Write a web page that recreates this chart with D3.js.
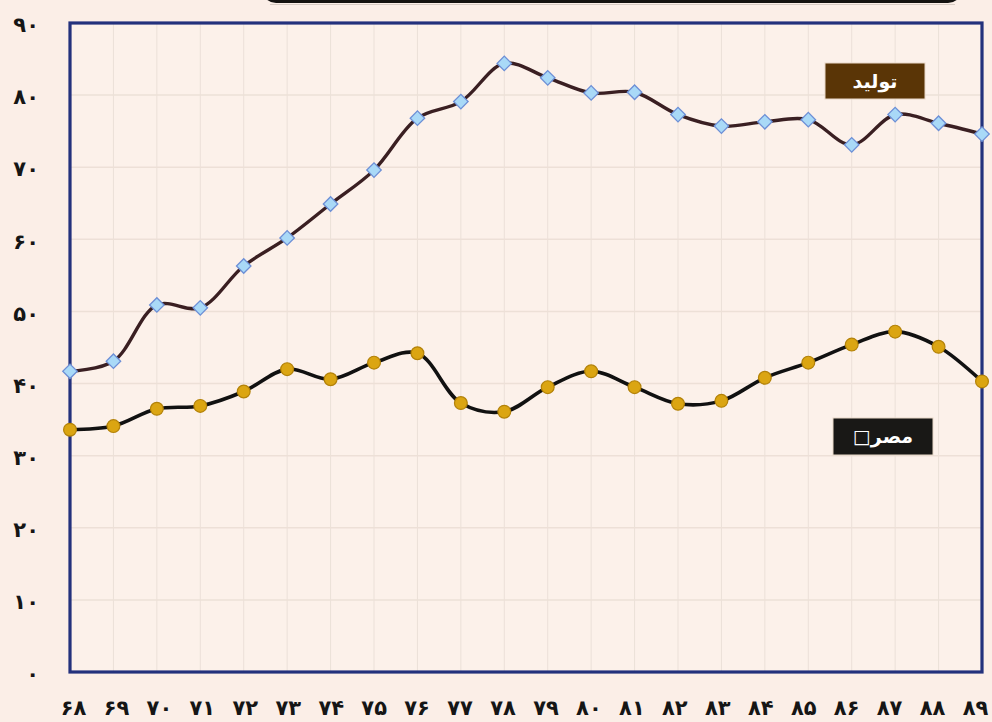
<!DOCTYPE html>
<html>
<head>
<meta charset="utf-8">
<script src="https://cdn.jsdelivr.net/npm/d3@7/dist/d3.min.js"></script>
<style>
  html, body { margin: 0; padding: 0; background: #fbeee7; }
  svg { display: block; }
</style>
</head>
<body>
<svg id="chart" width="992" height="722"></svg>
<script>
// ---- data ----
const years = ["۶۸","۶۹","۷۰","۷۱","۷۲","۷۳","۷۴","۷۵","۷۶","۷۷","۷۸","۷۹","۸۰","۸۱","۸۲","۸۳","۸۴","۸۵","۸۶","۸۷","۸۸","۸۹"];
const production = [41.7, 43.1, 50.9, 50.5, 56.3, 60.2, 64.9, 69.6, 76.8, 79.1, 84.4, 82.4, 80.3, 80.4, 77.3, 75.7, 76.3, 76.6, 73.1, 77.3, 76.1, 74.6];
const consumption = [33.6, 34.1, 36.5, 36.9, 38.9, 42.0, 40.6, 42.9, 44.2, 37.3, 36.1, 39.5, 41.7, 39.5, 37.2, 37.6, 40.8, 42.9, 45.4, 47.2, 45.1, 40.3];
const yTicks = [0, 10, 20, 30, 40, 50, 60, 70, 80, 90];
const yTickLabels = ["٠","۱۰","۲۰","۳۰","۴۰","۵۰","۶۰","۷۰","۸۰","۹۰"];
const legendProduction = "تولید";
const legendConsumption = "مصر□";

// ---- layout ----
const svg = d3.select("#chart");
const L = 70, R = 982, T = 23, B = 672;

const x = d3.scalePoint().domain(years).range([L, R]);
const xLab = d3.scalePoint().domain(years).range([73, 975]);
const y = d3.scaleLinear().domain([0, 90]).range([B, T]);

// background
svg.append("rect").attr("width", 992).attr("height", 722).attr("fill", "#fbeee7");

// top dark banner (cropped)
svg.append("rect").attr("x", 262).attr("y", -30).attr("width", 700).attr("height", 33)
  .attr("rx", 14).attr("fill", "#141210");
svg.append("line").attr("x1", 270).attr("x2", 955).attr("y1", 4.5).attr("y2", 4.5)
  .attr("stroke", "#d8ccc4").attr("stroke-width", 1);

// plot area
svg.append("rect").attr("x", L).attr("y", T).attr("width", R - L).attr("height", B - T)
  .attr("fill", "#fcf1ea");

// grid
const grid = svg.append("g");
grid.selectAll("line.v").data(years).join("line")
  .attr("x1", d => x(d)).attr("x2", d => x(d)).attr("y1", T).attr("y2", B)
  .attr("stroke", "#ebe0d8").attr("stroke-width", 1);
grid.selectAll("line.h").data(yTicks).join("line")
  .attr("x1", L).attr("x2", R).attr("y1", d => y(d)).attr("y2", d => y(d))
  .attr("stroke", "#ede0d7").attr("stroke-width", 1.5);

// frame
svg.append("rect").attr("x", L).attr("y", T).attr("width", R - L).attr("height", B - T)
  .attr("fill", "none").attr("stroke", "#23317c").attr("stroke-width", 3.2);

// y axis labels
const yAxis = d3.axisLeft(y).tickValues(yTicks)
  .tickFormat((d, i) => yTickLabels[i]).tickSize(0).tickPadding(0);
const gy = svg.append("g").attr("transform", "translate(39,2)").call(yAxis);
gy.select(".domain").remove();
gy.selectAll("text").attr("font-family", "DejaVu Sans").attr("font-weight", "bold")
  .attr("font-size", 21).attr("fill", "#151515");

// x axis labels
const xAxis = d3.axisBottom(xLab).tickSize(0).tickPadding(0);
const gx = svg.append("g").attr("transform", "translate(0,700)").call(xAxis);
gx.select(".domain").remove();
gx.selectAll("text").attr("font-family", "DejaVu Sans").attr("font-weight", "bold")
  .attr("font-size", 21).attr("fill", "#151515");

// lines
const line = d3.line().x((d, i) => x(years[i])).y(d => y(d)).curve(d3.curveCatmullRom.alpha(0.5));

svg.append("path").datum(consumption).attr("d", line)
  .attr("fill", "none").attr("stroke", "#111").attr("stroke-width", 3.6);
svg.selectAll("circle.c").data(consumption).join("circle")
  .attr("cx", (d, i) => x(years[i])).attr("cy", d => y(d)).attr("r", 6.4)
  .attr("fill", "#dba512").attr("stroke", "#b38209").attr("stroke-width", 1.2);

svg.append("path").datum(production).attr("d", line)
  .attr("fill", "none").attr("stroke", "#3a1f22").attr("stroke-width", 3.4);
const sym = d3.symbol().type(d3.symbolSquare).size(105);
svg.selectAll("path.p").data(production).join("path")
  .attr("d", sym)
  .attr("transform", (d, i) => `translate(${x(years[i])},${y(d)}) rotate(45)`)
  .attr("fill", "#a9d9f7").attr("stroke", "#6d8fd6").attr("stroke-width", 1.3);

// legend boxes
function legendBox(lx, ly, w, h, fill, label) {
  svg.append("rect").attr("x", lx).attr("y", ly).attr("width", w).attr("height", h)
    .attr("fill", fill).attr("stroke", "#e8d8c8").attr("stroke-width", 1);
  svg.append("text").attr("x", lx + w / 2).attr("y", ly + h / 2 + 1)
    .attr("text-anchor", "middle").attr("dominant-baseline", "middle")
    .attr("direction", "rtl")
    .attr("font-family", "DejaVu Sans").attr("font-weight", "bold").attr("font-size", 19)
    .attr("fill", "#fff").text(label);
}
legendBox(825, 63, 100, 36, "#5a3506", legendProduction);
legendBox(833, 418, 100, 37, "#191816", legendConsumption);
</script>
</body>
</html>
